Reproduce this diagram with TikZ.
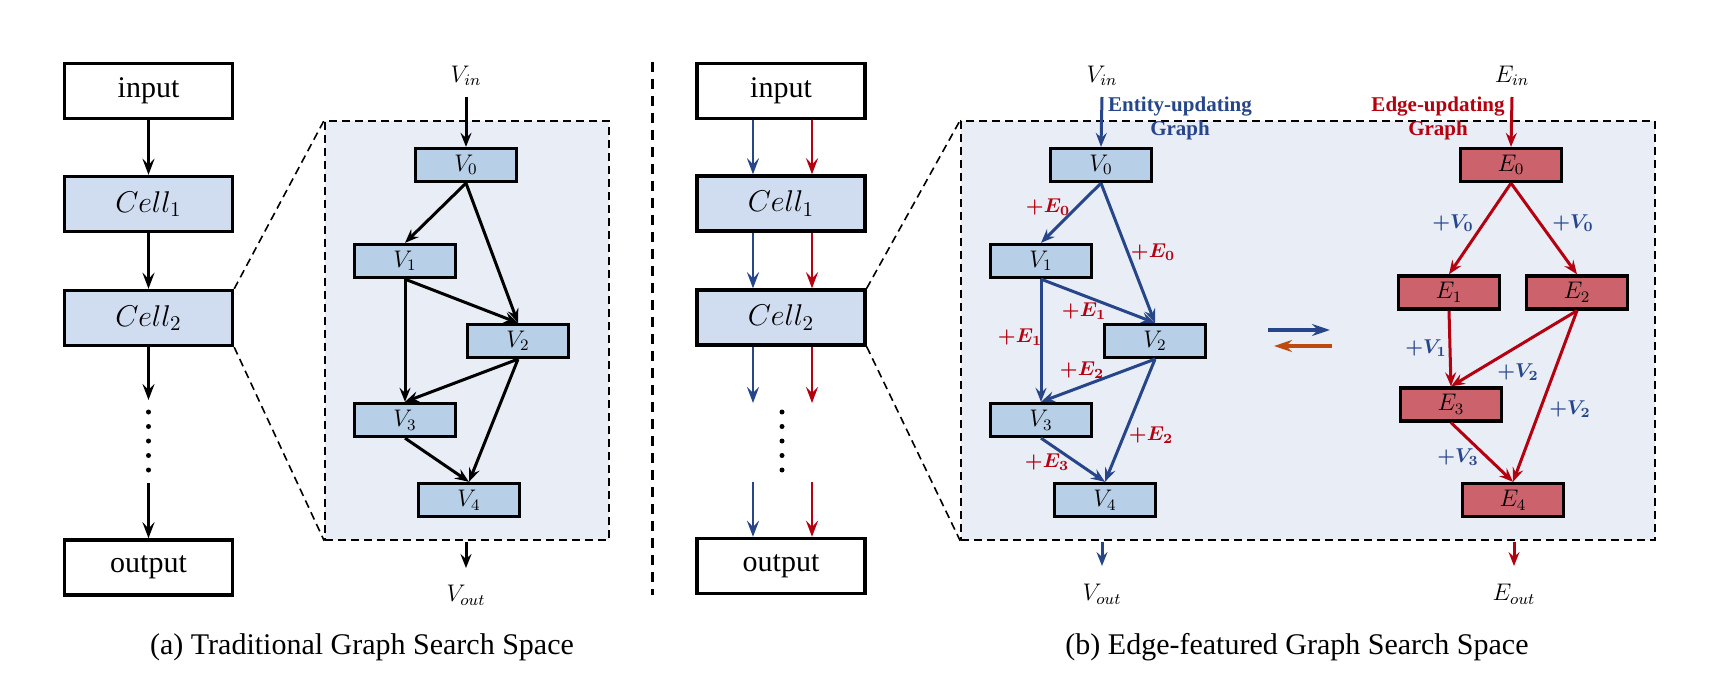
\RequirePackage{fix-cm}
\documentclass[tikz,border=0pt]{standalone}
\usepackage{fontspec}
\setmainfont{Liberation Serif}
\usepackage{bm}
\usetikzlibrary{arrows.meta}
\definecolor{eblue}{RGB}{39,70,138}
\definecolor{ered}{RGB}{180,0,15}
\definecolor{eorange}{RGB}{190,74,16}
\definecolor{cellfill}{RGB}{208,221,240}
\definecolor{vfill}{RGB}{184,207,232}
\definecolor{efill}{RGB}{204,98,107}
\definecolor{bgfill}{RGB}{232,237,246}
\tikzset{
  colbox/.style={draw, line width=1.7pt, minimum width=84pt, minimum height=27.5pt, inner sep=0pt, font=\fontsize{15}{18}\selectfont},
  cellbox/.style={colbox, fill=cellfill},
  vbox/.style={draw, line width=1.65pt, fill=vfill, minimum width=50.5pt, minimum height=16.5pt, inner sep=0pt, font=\fontsize{12}{14}\selectfont},
  ebox/.style={vbox, fill=efill},
  dbox/.style={draw, dash pattern=on 4pt off 2.5pt, line width=0.8pt, fill=bgfill, inner sep=0pt},
  zoomline/.style={dash pattern=on 4pt off 2.5pt, line width=0.8pt},
  colarrow/.style={line width=1.3pt, -{Stealth[length=8pt, width=6pt, inset=3pt]}},
  garrow/.style={line width=1.5pt, -{Stealth[length=7pt, width=5.5pt, inset=2.5pt]}},
  iolab/.style={font=\fontsize{12}{14}\selectfont, inner sep=0pt},
  elab/.style={text=ered, font=\fontsize{10}{12}\selectfont, inner sep=0pt},
  vlab/.style={text=eblue, font=\fontsize{10}{12}\selectfont, inner sep=0pt},
  caption/.style={font=\fontsize{15}{18}\selectfont, inner sep=0pt},
  gtitle/.style={font=\bfseries\fontsize{10.5}{12}\selectfont, align=center, inner sep=0pt},
}
\begin{document}
\begin{tikzpicture}[x=0.5pt,y=-0.5pt]
\useasboundingbox (0,0) rectangle (1724,700);
\fill[white] (0,0) rectangle (1724,700);

% ---------------- (a) ----------------
\node[dbox, minimum width=142pt, minimum height=209.5pt] (lbox) at (467,330.5) {};
\node[colbox] (lin) at (148.5,91) {input};
\node[cellbox] (lc1) at (148.5,204) {$Cell_1$};
\node[cellbox] (lc2) at (148.5,318) {$Cell_2$};
\node[colbox] (lout) at (148.5,567.5) {output};
\draw[zoomline] (lc2.north east) -- (lbox.north west);
\draw[zoomline] (lc2.south east) -- (lbox.south west);

\draw[colarrow] (lin.south) -- (lc1.north);
\draw[colarrow] (lc1.south) -- (lc2.north);
\coordinate (ld1) at (148.5,400);
\coordinate (ld2) at (148.5,483);
\draw[colarrow] (lc2.south) -- (ld1);
\draw[colarrow] (ld2) -- (lout.north);
\foreach \yy in {412,426.5,441,455.5,470} \fill (148.5,\yy) circle (1.25pt);

\node[vbox] (lv0) at (466,165) {$V_0$};
\node[vbox] (lv1) at (405,261) {$V_1$};
\node[vbox] (lv2) at (518,341) {$V_2$};
\node[vbox] (lv3) at (405,420) {$V_3$};
\node[vbox] (lv4) at (469,500) {$V_4$};
\node[iolab] (lvin) at (466,76) {$V_{in}$};
\coordinate (lvins) at (466,97);
\draw[garrow] (lvins) -- (lv0.north);
\draw[garrow] (lv0.south) -- (lv1.north);
\draw[garrow] (lv0.south) -- (lv2.north);
\draw[garrow] (lv1.south) -- (lv2.north);
\draw[garrow] (lv1.south) -- (lv3.north);
\draw[garrow] (lv2.south) -- (lv3.north);
\draw[garrow] (lv2.south) -- (lv4.north);
\draw[garrow] (lv3.south) -- (lv4.north);
\node[iolab] (lvout) at (466,595) {$V_{out}$};
\coordinate (lvouts) at (466,542);
\coordinate (lvoute) at (466,568);
\draw[garrow] (lvouts) -- (lvoute);

\node[caption] (capa) at (362,647) {(a) Traditional Graph Search Space};

% separator
\coordinate (sept) at (652,62);
\coordinate (sepb) at (652,595);
\draw[line width=1.5pt, dash pattern=on 5pt off 3.5pt] (sept) -- (sepb);

% ---------------- (b) ----------------
\node[dbox, minimum width=347pt, minimum height=209.5pt] (rbox) at (1308,330.5) {};
\node[colbox] (rin) at (781,91) {input};
\node[cellbox] (rc1) at (781,203.5) {$Cell_1$};
\node[cellbox] (rc2) at (781,317.5) {$Cell_2$};
\node[colbox] (rout) at (781,566) {output};
\draw[zoomline] (rc2.north east) -- (rbox.north west);
\draw[zoomline] (rc2.south east) -- (rbox.south west);

\begin{scope}[colarrow]
\draw[eblue] ([xshift=-14pt]rin.south) -- ([xshift=-14pt]rc1.north);
\draw[ered] ([xshift=15.5pt]rin.south) -- ([xshift=15.5pt]rc1.north);
\draw[eblue] ([xshift=-14pt]rc1.south) -- ([xshift=-14pt]rc2.north);
\draw[ered] ([xshift=15.5pt]rc1.south) -- ([xshift=15.5pt]rc2.north);
\coordinate (rb1) at (753,403);
\coordinate (rr1) at (812,403);
\coordinate (rb2) at (753,482);
\coordinate (rr2) at (812,482);
\draw[eblue] ([xshift=-14pt]rc2.south) -- (rb1);
\draw[ered] ([xshift=15.5pt]rc2.south) -- (rr1);
\draw[eblue] (rb2) -- ([xshift=-14pt]rout.north);
\draw[ered] (rr2) -- ([xshift=15.5pt]rout.north);
\end{scope}
\foreach \yy in {412,426.5,441,455.5,470} \fill (782,\yy) circle (1.25pt);

% entity graph
\node[vbox] (rv0) at (1101,165) {$V_0$};
\node[vbox] (rv1) at (1041,261) {$V_1$};
\node[vbox] (rv2) at (1155,341) {$V_2$};
\node[vbox] (rv3) at (1041,420) {$V_3$};
\node[vbox] (rv4) at (1105,500) {$V_4$};
\node[iolab] (rvin) at (1102,76) {$V_{in}$};
\coordinate (rvins) at (1102,97);
\node[gtitle, text=eblue] (etitle) at (1180,118) {Entity-updating\\Graph};
\begin{scope}[garrow, eblue]
\draw (rvins) -- (rv0.north);
\draw (rv0.south) -- (rv1.north);
\draw (rv0.south) -- (rv2.north);
\draw (rv1.south) -- (rv2.north);
\draw (rv1.south) -- (rv3.north);
\draw (rv2.south) -- (rv3.north);
\draw (rv2.south) -- (rv4.north);
\draw (rv3.south) -- (rv4.north);
\coordinate (rvouts) at (1102,542);
\coordinate (rvoute) at (1102,566);
\draw (rvouts) -- (rvoute);
\end{scope}
\node[iolab] (rvout) at (1102,594) {$V_{out}$};
\node[elab] (le1) at (1048,207) {$\bm{+E_0}$};
\node[elab] (le2) at (1153,252) {$\bm{+E_0}$};
\node[elab] (le3) at (1084,311) {$\bm{+E_1}$};
\node[elab] (le4) at (1020,337) {$\bm{+E_1}$};
\node[elab] (le5) at (1082,370) {$\bm{+E_2}$};
\node[elab] (le6) at (1151,435) {$\bm{+E_2}$};
\node[elab] (le7) at (1047,462) {$\bm{+E_3}$};

% exchange arrows
\coordinate (xa1) at (1268,330);
\coordinate (xa2) at (1330,330);
\coordinate (xb1) at (1332,346);
\coordinate (xb2) at (1274,346);
\draw[eblue, line width=2pt, -{Stealth[length=9pt, width=6pt, inset=3pt]}] (xa1) -- (xa2);
\draw[eorange, line width=2pt, -{Stealth[length=9pt, width=6pt, inset=3pt]}] (xb1) -- (xb2);

% edge graph
\node[ebox] (e0) at (1511,165) {$E_0$};
\node[ebox] (e1) at (1449,292.5) {$E_1$};
\node[ebox] (e2) at (1577,292.5) {$E_2$};
\node[ebox] (e3) at (1451,404.5) {$E_3$};
\node[ebox] (e4) at (1513,500) {$E_4$};
\node[iolab] (ein) at (1512,76) {$E_{in}$};
\coordinate (eins) at (1512,97);
\node[gtitle, text=ered] (rtitle) at (1438,118) {Edge-updating\\Graph};
\begin{scope}[garrow, ered]
\draw (eins) -- (e0.north);
\draw (e0.south) -- (e1.north);
\draw (e0.south) -- (e2.north);
\draw (e1.south) -- (e3.north);
\draw (e2.south) -- (e3.north);
\draw (e2.south) -- (e4.north);
\draw (e3.south) -- (e4.north);
\coordinate (eouts) at (1514,542);
\coordinate (eoute) at (1514,566);
\draw (eouts) -- (eoute);
\end{scope}
\node[iolab] (eout) at (1514,594) {$E_{out}$};
\node[vlab] (lv1l) at (1453,223) {$\bm{+V_0}$};
\node[vlab] (lv2l) at (1573,223) {$\bm{+V_0}$};
\node[vlab] (lv3l) at (1426,348) {$\bm{+V_1}$};
\node[vlab] (lv4l) at (1518,372) {$\bm{+V_2}$};
\node[vlab] (lv5l) at (1570,409) {$\bm{+V_2}$};
\node[vlab] (lv6l) at (1458,457) {$\bm{+V_3}$};

\node[caption] (capb) at (1297,647) {(b) Edge-featured Graph Search Space};
\end{tikzpicture}
\end{document}
